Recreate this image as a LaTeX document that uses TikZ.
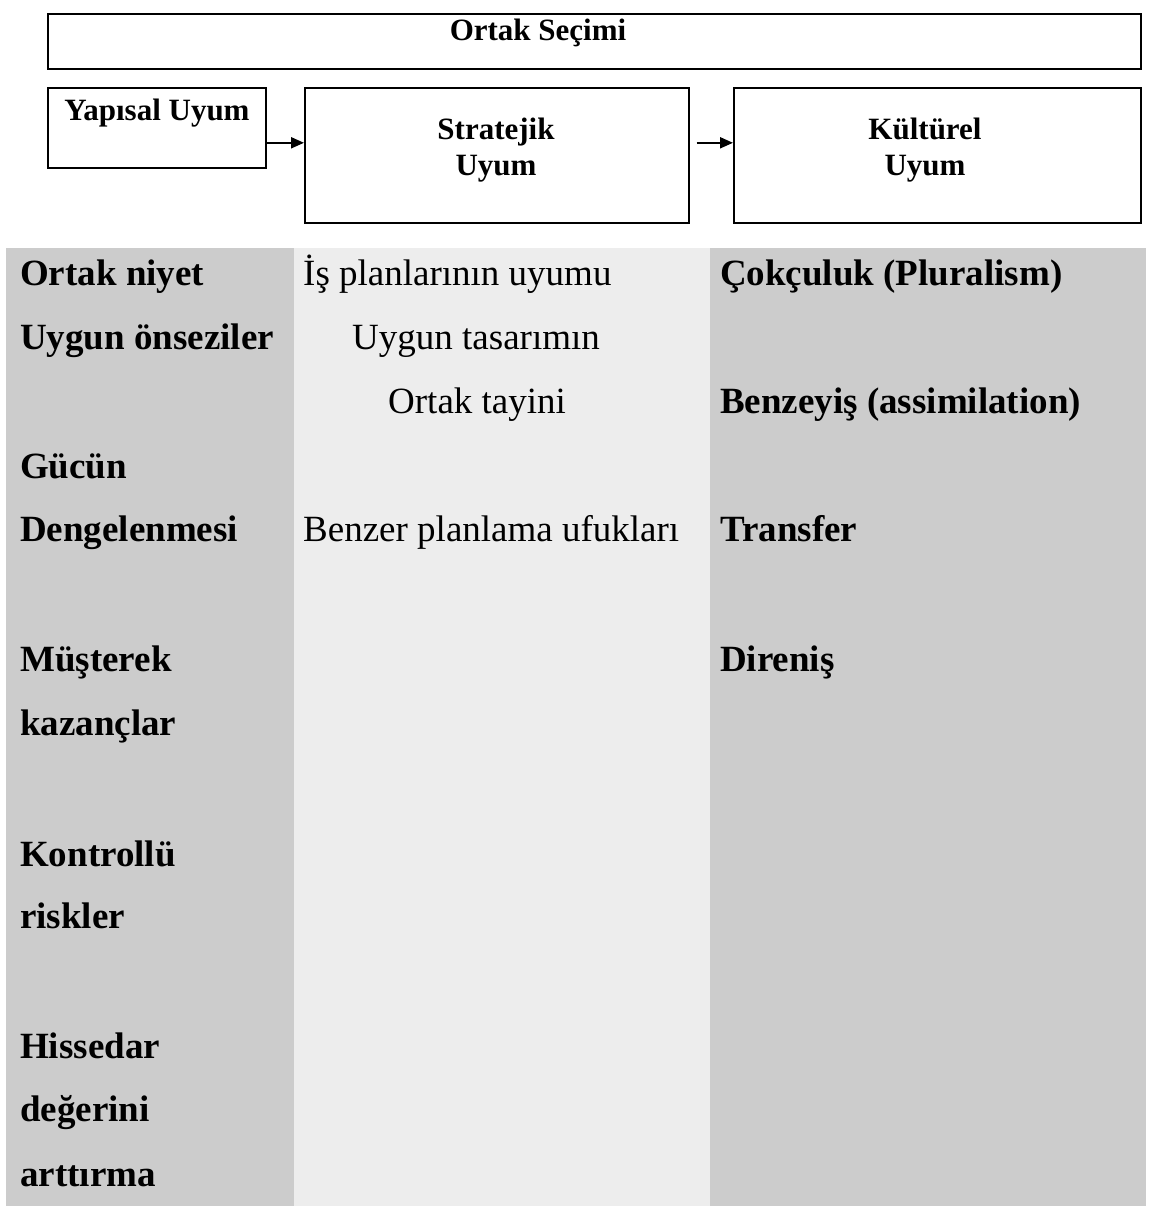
\documentclass[tikz,border=0pt]{standalone}
\usepackage{fontspec}
\setmainfont{Liberation Serif}
\usetikzlibrary{arrows.meta,positioning}

\definecolor{sidegray}{gray}{0.80}
\definecolor{midgray}{gray}{0.93}

\tikzset{
  box/.style={draw, line width=1.6pt, rectangle, inner sep=0pt, anchor=north west},
  head/.style={font=\fontsize{31}{36}\selectfont\bfseries, inner sep=0pt, anchor=base},
  item/.style={font=\fontsize{37}{44}\selectfont\bfseries, inner sep=0pt, anchor=base west},
  plain/.style={font=\fontsize{37}{44}\selectfont, inner sep=0pt, anchor=base west},
  arrow/.style={-{Triangle[length=13pt,width=11pt]}, line width=2pt}
}

\begin{document}
\begin{tikzpicture}[x=1pt, y=-1pt]
  \useasboundingbox (0,0) rectangle (1149,1210);

  % background columns
  \fill[sidegray] (6,248) rectangle (294,1206);
  \fill[midgray] (294,248) rectangle (710,1206);
  \fill[sidegray] (710,248) rectangle (1146,1206);

  % top boxes
  \node[box, minimum width=1093pt, minimum height=55pt] (secim) at (47,13) {};
  \node[head] (secimtext) at (538,40) {Ortak Seçimi};

  \node[box, minimum width=218pt, minimum height=80pt] (yapisal) at (47,87) {};
  \node[head] (yapisaltext) at (157,120) {Yapısal Uyum};

  \node[box, minimum width=384pt, minimum height=135pt] (stratejik) at (304,87) {};
  \node[head, align=center, anchor=center] (stratejiktext) at (496,150) {Stratejik\\Uyum};

  \node[box, minimum width=407pt, minimum height=135pt] (kulturel) at (733,87) {};
  \node[head, align=center, anchor=center] (kulturel text) at (925,150) {Kültürel\\Uyum};

  \draw[arrow] ([yshift=-15pt]yapisal.east) -- ([yshift=12.5pt]stratejik.west);
  \draw[arrow] ([xshift=7pt, yshift=12.5pt]stratejik.east) -- ([yshift=12.5pt]kulturel.west);

  % left column
  \node[item] (niyet) at (20,285) {Ortak niyet};
  \node[item] (onseziler) at (20,349) {Uygun önseziler};
  \node[item] (gucun) at (20,478) {Gücün};
  \node[item] (denge) at (20,541) {Dengelenmesi};
  \node[item] (musterek) at (20,671) {Müşterek};
  \node[item] (kazanc) at (20,735) {kazançlar};
  \node[item] (kontrol) at (20,866) {Kontrollü};
  \node[item] (risk) at (20,928) {riskler};
  \node[item] (hisse) at (20,1058) {Hissedar};
  \node[item] (deger) at (20,1121) {değerini};
  \node[item] (artir) at (20,1186) {arttırma};

  % middle column
  \node[plain] (isplan) at (303,285) {İş planlarının uyumu};
  \node[plain] (tasarim) at (352,349) {Uygun tasarımın};
  \node[plain] (tayin) at (388,413) {Ortak tayini};
  \node[plain] (ufuk) at (303,541) {Benzer planlama ufukları};

  % right column
  \node[item] (cokculuk) at (720,285) {Çokçuluk (Pluralism)};
  \node[item] (benzeyis) at (720,413) {Benzeyiş (assimilation)};
  \node[item] (transfer) at (720,541) {Transfer};
  \node[item] (direnis) at (720,671) {Direniş};
\end{tikzpicture}
\end{document}
